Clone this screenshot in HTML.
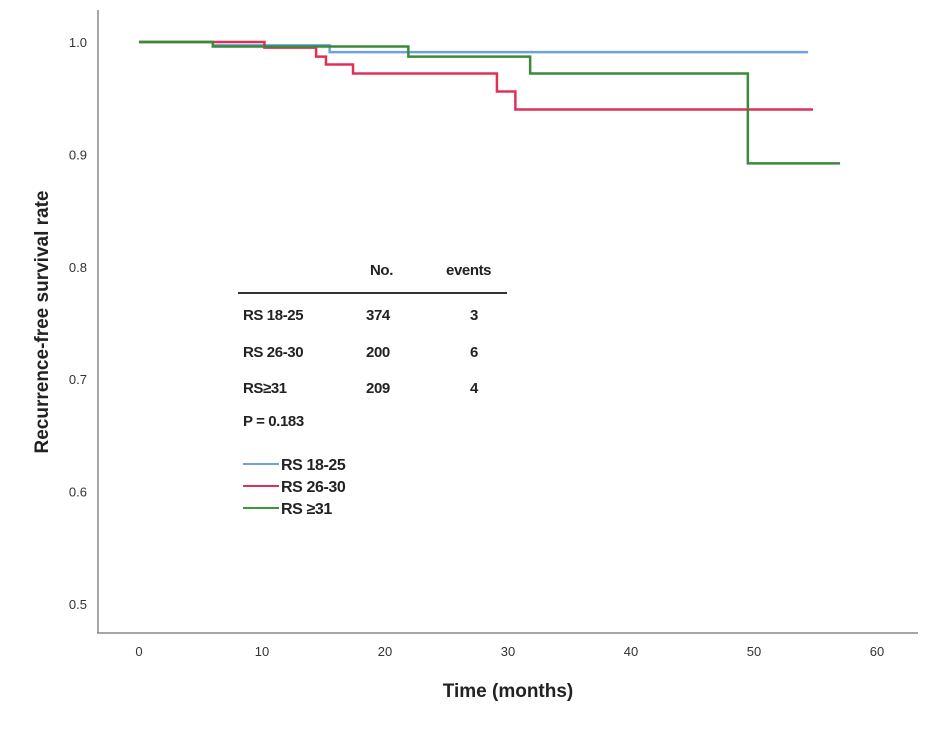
<!DOCTYPE html>
<html><head><meta charset="utf-8"><style>
body{margin:0;background:#fff}
svg text{font-family:"Liberation Sans",Arial,sans-serif}
</style></head><body>
<svg id="chart" width="945" height="727" viewBox="0 0 945 727" xmlns="http://www.w3.org/2000/svg">
<g id="axes"></g>
<g id="series"></g>
<g id="table" font-weight="bold" font-size="15" fill="#222" letter-spacing="-0.4">
  <text x="370" y="275">No.</text>
  <text x="446" y="275">events</text>
  <line x1="238" y1="293" x2="507" y2="293" stroke="#333" stroke-width="2"/>
  <text x="243" y="320">RS 18-25</text>
  <text x="366" y="320">374</text>
  <text x="474" y="320" text-anchor="middle">3</text>
  <text x="243" y="357">RS 26-30</text>
  <text x="366" y="357">200</text>
  <text x="474" y="357" text-anchor="middle">6</text>
  <text x="243" y="393">RS≥31</text>
  <text x="366" y="393">209</text>
  <text x="474" y="393" text-anchor="middle">4</text>
  <text x="243" y="426">P = 0.183</text>
</g>
<g id="legend" font-weight="bold" font-size="16" fill="#222" letter-spacing="-0.4">
  <line x1="243" y1="464" x2="279" y2="464" stroke="#6fa0e0" stroke-width="2"/>
  <text x="281" y="470">RS 18-25</text>
  <line x1="243" y1="486" x2="279" y2="486" stroke="#e0305a" stroke-width="2"/>
  <text x="281" y="492">RS 26-30</text>
  <line x1="243" y1="508" x2="279" y2="508" stroke="#3a9a3a" stroke-width="2"/>
  <text x="281" y="514">RS ≥31</text>
</g>
<text x="508" y="697" text-anchor="middle" font-weight="bold" font-size="19" fill="#222">Time (months)</text>
<text transform="translate(48,322) rotate(-90)" text-anchor="middle" font-weight="bold" font-size="19" fill="#222">Recurrence-free survival rate</text>
</svg>
<script>
const xTicks=[0,10,20,30,40,50,60];
const yTicks=[0.5,0.6,0.7,0.8,0.9,1.0];
const blueT=[0,6,15.5,54.4];
const blueS=[1.0,0.997,0.991,0.991];
const redT=[0,10.2,14.4,15.2,17.4,29.1,30.6,54.8];
const redS=[1.0,0.995,0.987,0.980,0.972,0.956,0.940,0.940];
const greenT=[0,6,21.9,31.8,49.5,57];
const greenS=[1.0,0.996,0.987,0.972,0.892,0.892];

const NS='http://www.w3.org/2000/svg';
const xS=t=>139+t*12.3;
const yS=s=>42+(1-s)*1124;
const axes=document.getElementById('axes');
function mk(tag,attrs,parent){const e=document.createElementNS(NS,tag);for(const k in attrs)e.setAttribute(k,attrs[k]);parent.appendChild(e);return e;}
let a=mk('line',{x1:98,y1:10,x2:98,y2:633,stroke:'#888','stroke-width':1.5},axes);


a=mk('line',{x1:97,y1:633,x2:918,y2:633,stroke:'#888','stroke-width':1.5},axes);


xTicks.forEach(v=>{const t=mk('text',{x:xS(v),y:656,'text-anchor':'middle','font-size':13,fill:'#333'},axes);t.textContent=v;

});
yTicks.forEach(v=>{const t=mk('text',{x:87,y:yS(v)+5,'text-anchor':'end','font-size':13,fill:'#333'},axes);t.textContent=v.toFixed(1);

});
function step(T,S,color,name){let d='M'+xS(T[0])+','+yS(S[0]);for(let i=1;i<T.length;i++){d+=' H'+xS(T[i])+' V'+yS(S[i]);}
const p=mk('path',{d:d,fill:'none',stroke:color,'stroke-width':2.5},document.getElementById('series'));

}
step(blueT,blueS,'#6fa0e0','series-rs18-25');
step(redT,redS,'#e0305a','series-rs26-30');
step(greenT,greenS,'#3a8a3a','series-rs31');
</script>
</body></html>
